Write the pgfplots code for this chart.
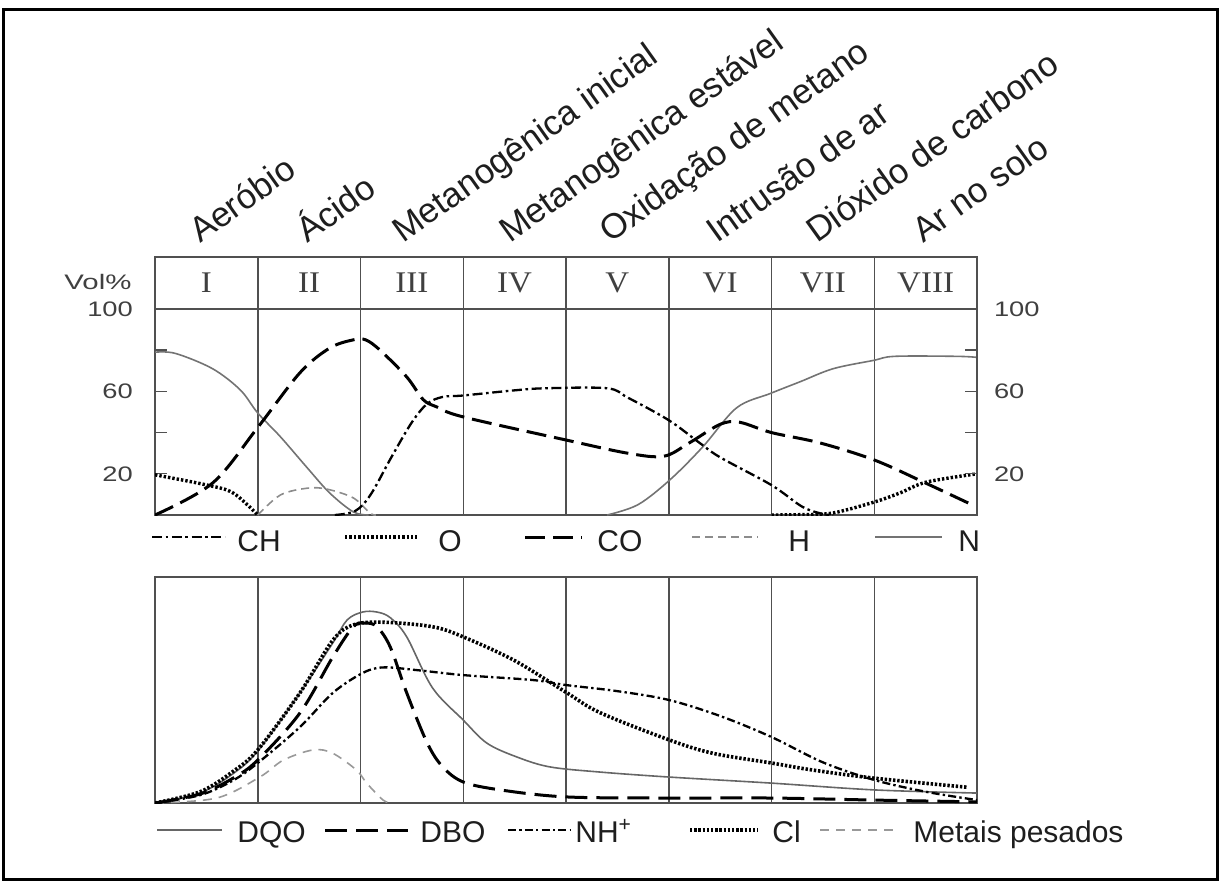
\documentclass[border=0pt]{standalone}
\usepackage{fontspec}
\setmainfont{Liberation Sans}
\newfontfamily\romanfont{Liberation Serif}
\usepackage{pgfplots}
\pgfplotsset{compat=1.18}

\definecolor{ink}{HTML}{1E1E1E}
\definecolor{gridc}{HTML}{505050}
\definecolor{ticklab}{HTML}{404040}

\tikzset{
  sCH/.style={black, line width=1.15pt, dash pattern=on 5pt off 1.8pt on 1.3pt off 1.8pt},
  sO/.style={black, line width=1.7pt, dash pattern=on 1.2pt off 1pt},
  sCO/.style={black, line width=1.5pt, dash pattern=on 10pt off 4pt},
  sH/.style={black!45, line width=0.8pt, dash pattern=on 4pt off 2.5pt},
  sN/.style={black!55, line width=0.8pt},
  sDQO/.style={black!60, line width=0.8pt},
  sDBO/.style={black, line width=1.5pt, dash pattern=on 11pt off 4.5pt},
  sNH/.style={black, line width=1.15pt, dash pattern=on 4pt off 1.6pt on 1.2pt off 1.6pt},
  sCl/.style={black, line width=1.8pt, dash pattern=on 1.2pt off 0.9pt},
  sMet/.style={black!40, line width=0.8pt, dash pattern=on 4.5pt off 3.5pt},
  phase/.style={rotate=35.5, anchor=base west, inner sep=0pt, text=ink, font=\fontsize{17.4}{20}\selectfont},
  legtext/.style={anchor=base west, inner sep=0pt, text=ink, font=\fontsize{15}{18}\selectfont},
  roman/.style={text=ticklab, xscale=1.1, font=\romanfont\fontsize{15}{17}\selectfont},
}

\pgfplotsset{
  phasebox/.style={
    scale only axis, width=411pt, xmin=0, xmax=8,
    axis line style={gridc, line width=0.8pt},
    xtick={1,2,3,4,5,6,7}, xticklabels={}, xmajorgrids,
    major x tick style={draw=none},
    grid style={gridc, line width=0.75pt},
  },
  curve/.style={smooth, tension=0.55, no markers},
}

\begin{document}
\begin{tikzpicture}

% upper panel: gases (Vol%)
\begin{axis}[phasebox, at={(77.5pt,-257.5pt)}, anchor=south west,
  height=129pt, ymin=0, ymax=125.2,
  ytick={20,40,60,80,100}, yticklabels={20,,60,,100},
  ytick pos=left, tick align=inside, major tick length=6pt,
  y tick style={gridc, line width=0.7pt},
  yticklabel style={font=\fontsize{10.5}{12}\selectfont, text=ticklab, xscale=1.3, xshift=-5pt},
  /pgf/number format/assume math mode=true]

\draw[gridc, line width=0.8pt] (axis cs:0,100) -- (axis cs:8,100);
\node[roman] at (axis cs:0.5,112.8) {I};
\node[roman] at (axis cs:1.5,112.8) {II};
\node[roman] at (axis cs:2.5,112.8) {III};
\node[roman] at (axis cs:3.5,112.8) {IV};
\node[roman] at (axis cs:4.5,112.8) {V};
\node[roman] at (axis cs:5.5,112.8) {VI};
\node[roman] at (axis cs:6.5,112.8) {VII};
\node[roman] at (axis cs:7.5,112.8) {VIII};

% N
\addplot[sN, curve] coordinates {(0,79) (0.2,78.4) (0.56,71) (0.83,60.7) (1,49.5) (1.22,38) (1.48,23) (1.7,10.7) (1.93,1.5) (2.08,0)};
\addplot[sN, curve] coordinates {(4.4,0) (4.7,5) (5.01,17) (5.33,33) (5.66,52) (5.99,59) (6.28,64.7) (6.6,71) (6.99,75) (7.2,77) (7.8,77) (8,76.5)};
% H
\addplot[sH, curve] coordinates {(1,0) (1.22,9.7) (1.48,13) (1.67,12.6) (1.93,8.3) (2.09,1) (2.15,0)};
% O
\addplot[sO, curve] coordinates {(0,19.5) (0.5,14.6) (0.76,10.7) (1,0)};
\addplot[sO, curve] coordinates {(6,0) (6.3,0.2) (6.6,1) (7,6.3) (7.25,10.7) (7.51,16) (8,20)};
% CO
\addplot[sCO, curve] coordinates {(0,0) (0.56,15.5) (1,42.5) (1.41,69) (1.7,81) (1.93,85) (2.05,85) (2.19,80) (2.45,67) (2.61,56) (2.74,52.5) (3,47.6) (4,36.4) (4.6,30) (4.95,28.5) (5.2,35) (5.5,44) (5.69,45) (6,40) (6.47,35) (7,26.7) (7.5,15.5) (7.95,5)};
% CH
\addplot[sCH, curve] coordinates {(1.75,0) (1.95,2) (2.1,10) (2.3,28) (2.5,45) (2.65,54) (2.8,57.3) (3,58) (3.5,60.5) (3.8,61.5) (4.4,61.5) (4.6,57) (5,46) (5.3,35) (5.5,28) (6,14.5) (6.3,4) (6.5,0.5) (6.6,0)};
\end{axis}

% right-hand scale of the upper panel
\begin{axis}[at={(77.5pt,-257.5pt)}, anchor=south west, scale only axis,
  width=411pt, height=129pt, xmin=0, xmax=8, ymin=0, ymax=125.2,
  axis x line=none, axis y line*=right,
  axis line style={gridc, line width=0.8pt},
  ytick={20,40,60,80,100}, yticklabels={20,,60,,100},
  tick align=inside, major tick length=6pt,
  y tick style={gridc, line width=0.7pt},
  yticklabel style={font=\fontsize{10.5}{12}\selectfont, text=ticklab, xscale=1.3, xshift=3pt},
  /pgf/number format/assume math mode=true]
\end{axis}

% lower panel: leachate
\begin{axis}[phasebox, at={(77.5pt,-401.5pt)}, anchor=south west,
  height=113pt, ymin=0, ymax=100, ytick=\empty]
% Metais pesados
\addplot[sMet, curve] coordinates {(0,0) (0.6,2.2) (1.02,11.5) (1.25,19) (1.54,23.5) (1.73,22) (1.96,14.6) (2.06,8.8) (2.22,1.3) (2.3,0)};
% DQO
\addplot[sDQO, curve] coordinates {(0,0) (0.44,4.5) (0.76,13) (1,23) (1.41,48.7) (1.73,70.8) (1.87,81) (2.02,84.5) (2.16,84.5) (2.29,82) (2.45,73.5) (2.7,51) (3,36.7) (3.23,26.5) (3.52,20.4) (3.84,16) (4.33,13.7) (5,11.5) (6,8.8) (7,5.8) (8,4.4)};
% DBO
\addplot[sDBO, curve] coordinates {(0,0) (0.44,4) (0.76,11) (1,19) (1.41,39.8) (1.73,64.6) (1.93,78) (2.05,79.6) (2.16,78) (2.29,69) (2.45,48.7) (2.65,26.5) (2.8,16) (3,9.3) (3.36,5.8) (4,2.7) (5,2.2) (6,2.2) (7,1.3) (8,0.5)};
% NH+
\addplot[sNH, curve] coordinates {(0,0) (0.44,3.5) (0.76,10) (1,17.7) (1.41,33.6) (1.73,48.7) (2.02,57.5) (2.22,60) (2.55,58.8) (3,56.6) (3.68,54.4) (4,52.2) (4.5,49.5) (5,45.6) (5.5,38.5) (6,29.2) (6.5,18) (7,10.2) (7.5,5) (8,1.3)};
% Cl
\addplot[sCl, curve] coordinates {(0,0) (0.44,5) (0.76,14) (1,23.5) (1.41,48.7) (1.73,72) (1.93,78.8) (2.22,80) (2.7,78) (3,73.5) (3.5,63) (4,49) (4.33,40) (5,28) (5.43,22) (6,17.7) (6.4,14.6) (7,11) (7.9,7)};
\end{axis}

% labels, legends and frame (coordinates in pixels of the reference)
\begin{scope}[x=0.5pt, y=-0.5pt]
\node[anchor=center, text=ticklab, xscale=1.4, font=\fontsize{10.5}{12}\selectfont] at (98,282) {Vol\%};

\node[phase] at (200,244) {Aeróbio};
\node[phase] at (307,244) {Ácido};
\node[phase] at (403,244) {Metanogênica inicial};
\node[phase] at (510,244) {Metanogênica estável};
\node[phase] at (610,244) {Oxidação de metano};
\node[phase] at (717,244) {Intrusão de ar};
\node[phase] at (817,244) {Dióxido de carbono};
\node[phase] at (923,244) {Ar no solo};

% legend of the upper panel
\draw[sCH] (152,537) -- (225,537); \node[legtext] at (237,551) {CH};
\draw[sO]  (345,537) -- (417,537); \node[legtext] at (438,551) {O};
\draw[sCO] (525,537) -- (582,537); \node[legtext] at (597,551) {CO};
\draw[sH]  (692,537) -- (758,537); \node[legtext] at (788,551) {H};
\draw[sN]  (875,537) -- (942,537); \node[legtext] at (958,551) {N};

% legend of the lower panel
\draw[sDQO] (157,830) -- (222,830); \node[legtext] at (237,842) {DQO};
\draw[sDBO] (325,830) -- (408,830); \node[legtext] at (420,842) {DBO};
\draw[sNH]  (508,830) -- (570,830); \node[legtext] at (575,842) {NH\textsuperscript{+}};
\draw[sCl]  (690,830) -- (758,830); \node[legtext] at (772,842) {Cl};
\draw[sMet] (820,830) -- (897,830); \node[legtext] at (913,842) {Metais pesados};

\draw[black, line width=1.5pt] (3,9) rectangle (1217,879);
\end{scope}

\pgfresetboundingbox
\useasboundingbox (0,0) rectangle (610pt,-442pt);
\end{tikzpicture}
\end{document}
